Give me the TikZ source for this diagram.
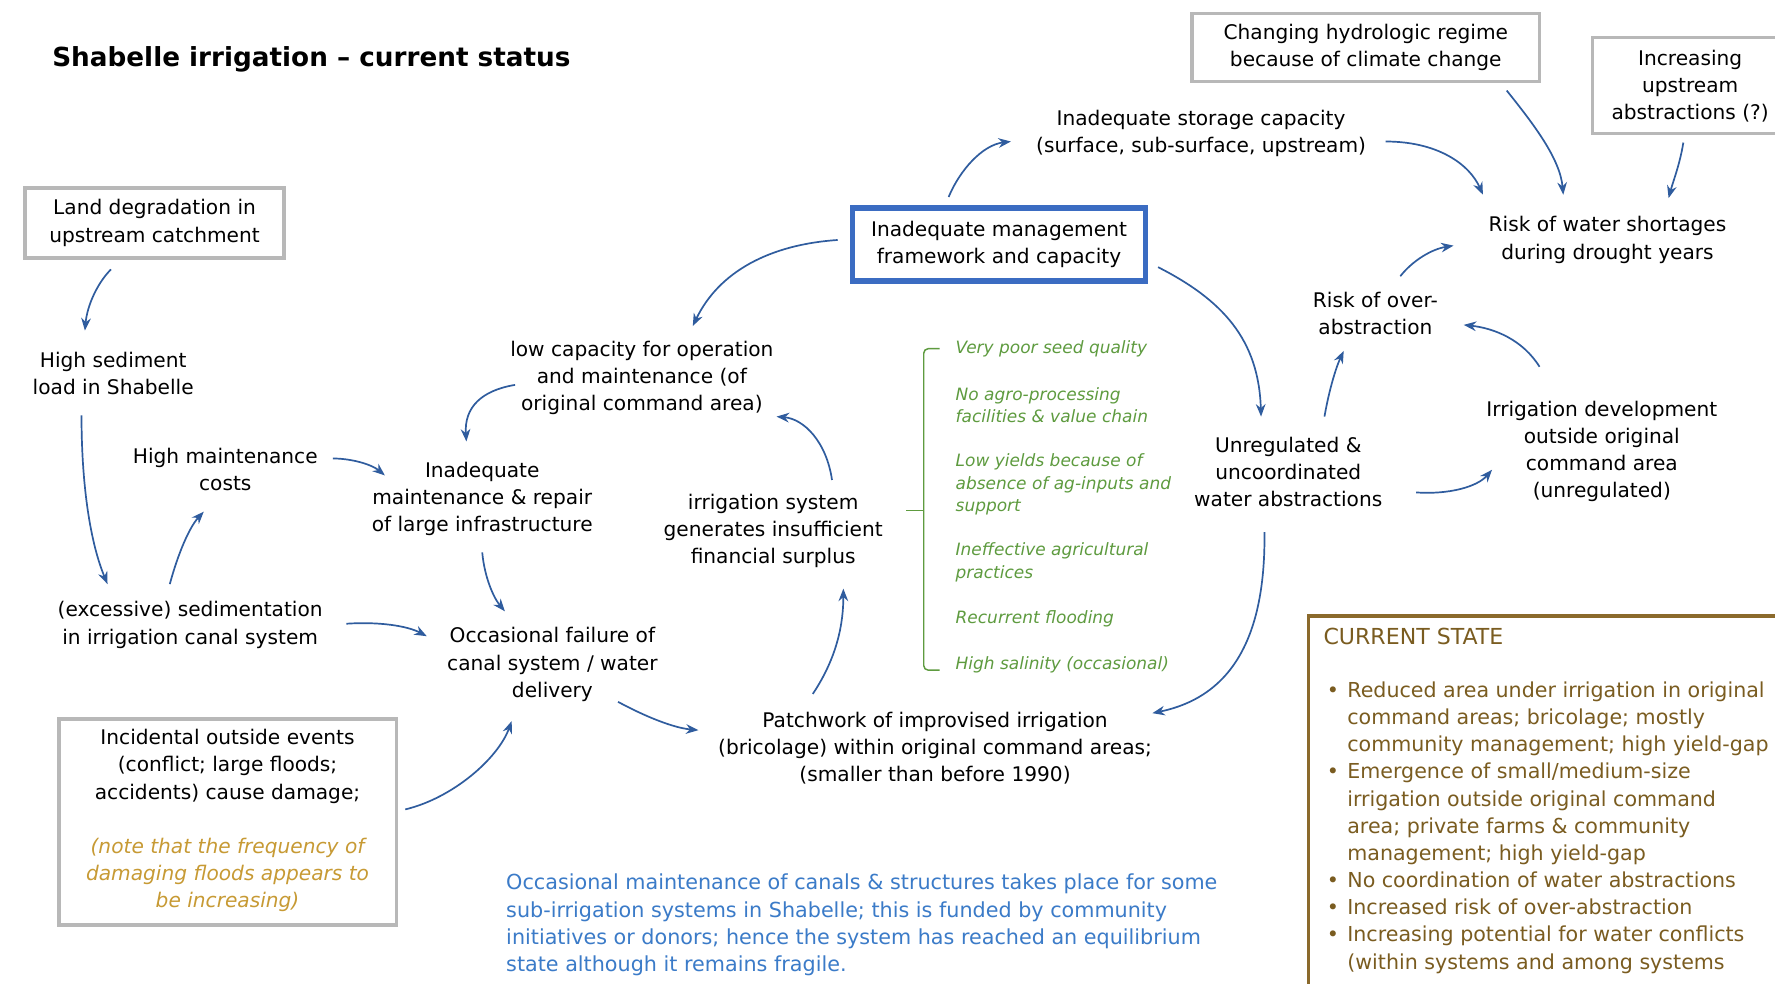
\documentclass[tikz,border=0pt]{standalone}
\usepackage{fontspec}
\setmainfont{DejaVu Sans}
\usetikzlibrary{arrows.meta,calc}
\definecolor{arrblue}{HTML}{2F5C9E}
\definecolor{mgmtblue}{HTML}{3B6CC2}
\definecolor{boxgray}{HTML}{B8B8B8}
\definecolor{leafgreen}{HTML}{5E9B3F}
\definecolor{notegold}{HTML}{C79A34}
\definecolor{parablue}{HTML}{3B7BC8}
\definecolor{statebrown}{HTML}{7A5C20}
\definecolor{stateborder}{HTML}{8B6A2C}
\newcommand{\mainfs}{\fontsize{17.8}{24}\selectfont}
\newcommand{\titlefs}{\fontsize{23.2}{28}\selectfont}
\newcommand{\greenfs}{\fontsize{15}{20}\selectfont}
\newcommand{\parafs}{\fontsize{18.3}{24}\selectfont}
\newcommand{\statefs}{\fontsize{18.2}{24}\selectfont}
\newcommand{\stateheadfs}{\fontsize{19.5}{24}\selectfont}
\newcommand{\bul}{\makebox[18pt][l]{•}}
\newcommand{\ind}{\hspace*{18pt}}
\begin{document}
\begin{tikzpicture}[x=1pt,y=-1pt,
  txt/.style={align=center,font=\mainfs,inner sep=0pt,text=black},
  gbox/.style={draw=boxgray,line width=3pt},
  arr/.style={draw=arrblue,line width=1.5pt,-{Stealth[length=11pt,width=8.5pt]}},
  greenitem/.style={anchor=west,align=left,font=\greenfs\itshape,inner sep=0pt,text=leafgreen}]
\useasboundingbox (0,0) rectangle (1568,869);
\fill[white] (0,0) rectangle (1568,869);

% title
\node[anchor=west,font=\titlefs\bfseries,inner sep=0pt] (title) at (46,52) {Shabelle irrigation – current status};

% boxed nodes
\node[gbox,txt,minimum width=229pt,minimum height=62pt] (land) at (136.5,197) {Land degradation in\\upstream catchment};
\node[draw=mgmtblue,line width=5pt,txt,minimum width=259pt,minimum height=64pt] (mgmt) at (882.5,216) {Inadequate management\\framework and capacity};
\node[gbox,txt,minimum width=307pt,minimum height=60pt] (chg) at (1206.5,42) {Changing hydrologic regime\\because of climate change};
\draw[gbox] (1575,33) -- (1407,33) -- (1407,118) -- (1575,118);
\node[txt] (incr) at (1493,76) {Increasing\\upstream\\abstractions (?)};

\node[gbox,minimum width=298pt,minimum height=182pt,inner sep=0pt] (incid) at (201,726) {};
\node[txt] (incidA) at (201,677) {Incidental outside events\\(conflict; large floods;\\accidents) cause damage;};
\node[txt,text=notegold,font=\mainfs\itshape] (incidB) at (201,773) {(note that the frequency of\\damaging floods appears to\\be increasing)};

% plain text nodes
\node[txt] (hs) at (100,330) {High sediment\\load in Shabelle};
\node[txt] (sed) at (168,552) {(excessive) sedimentation\\in irrigation canal system};
\node[txt] (hmc) at (199,415) {High maintenance\\costs};
\node[txt] (imr) at (426,441) {Inadequate\\maintenance \& repair\\of large infrastructure};
\node[txt] (lowcap) at (567,334) {low capacity for operation\\and maintenance (of\\original command area)};
\node[txt] (storage) at (1061,118) {Inadequate storage capacity\\(surface, sub-surface, upstream)};
\node[txt] (rws) at (1420,212) {Risk of water shortages\\during drought years};
\node[txt] (roa) at (1215,277) {Risk of over-\\abstraction};
\node[txt] (idev) at (1415,399) {Irrigation development\\outside original\\command area\\(unregulated)};
\node[txt] (unreg) at (1138,417) {Unregulated \&\\uncoordinated\\water abstractions};
\node[txt] (patch) at (826,661) {Patchwork of improvised irrigation\\(bricolage) within original command areas;\\(smaller than before 1990)};
\node[txt] (surplus) at (683,469) {irrigation system\\generates insufficient\\financial surplus};
\node[txt] (fail) at (488,587) {Occasional failure of\\canal system / water\\delivery};

% green list and bracket
\draw[leafgreen,line width=1.3pt,rounded corners=4pt] (830,308) -- (816,308) -- (816,592) -- (830,592);
\draw[leafgreen,line width=1.3pt] (816,451) -- (800,451);
\node[greenitem] (g1) at (844,308) {Very poor seed quality};
\node[greenitem] (g2) at (844,358) {No agro-processing\\facilities \& value chain};
\node[greenitem] (g3) at (844,428) {Low yields because of\\absence of ag-inputs and\\support};
\node[greenitem] (g4) at (844,497) {Ineffective agricultural\\practices};
\node[greenitem] (g5) at (844,547) {Recurrent flooding};
\node[greenitem] (g6) at (844,587) {High salinity (occasional)};

% blue paragraph
\node[anchor=north west,align=left,font=\parafs,text=parablue,inner sep=0pt] (para) at (447,772)
{Occasional maintenance of canals \& structures takes place for some\\sub-irrigation systems in Shabelle; this is funded by community\\initiatives or donors; hence the system has reached an equilibrium\\state although it remains fragile.};

% current state box
\draw[stateborder,line width=3pt] (1156,880) -- (1156,544) -- (1575,544);
\node[anchor=north west,font=\stateheadfs,text=statebrown,inner sep=0pt] (stateh) at (1169,555) {CURRENT STATE};
\node[anchor=north west,align=left,font=\statefs,text=statebrown,inner sep=0pt] (statel) at (1172,602)
{\bul Reduced area under irrigation in original\\
\ind command areas; bricolage; mostly\\
\ind community management; high yield-gap\\
\bul Emergence of small/medium-size\\
\ind irrigation outside original command\\
\ind area; private farms \& community\\
\ind management; high yield-gap\\
\bul No coordination of water abstractions\\
\bul Increased risk of over-abstraction\\
\bul Increasing potential for water conflicts\\
\ind (within systems and among systems};

% connectors
\draw[arr] ($(land)+(-38.5,41)$) .. controls (86,250) and (77,270) .. ($(hs)+(-25,-38)$);
\draw[arr] ($(hs)+(-28,37)$) .. controls (72,430) and (80,480) .. ($(sed)+(-73,-36)$);
\draw[arr] ($(sed)+(-18,-36)$) .. controls (157,490) and (167,466) .. ($(hmc)+(-19,37)$);
\draw[arr] ($(hmc)+(95,-10)$) .. controls (310,405) and (328,410) .. ($(imr)+(-86,-21)$);
\draw[arr] ($(lowcap)+(-112,6)$) .. controls (425,345) and (410,360) .. ($(imr)+(-14,-51)$);
\draw[arr] ($(mgmt)+(-142.5,-4)$) .. controls (680,216) and (635,240) .. ($(lowcap)+(45,-46)$);
\draw[arr] ($(mgmt)+(-44.5,-42)$) .. controls (848,150) and (868,128) .. ($(storage)+(-168,7)$);
\draw[arr] ($(storage)+(163,7)$) .. controls (1270,125) and (1298,145) .. ($(rws)+(-110,-40)$);
\draw[arr] ($(chg)+(124.5,38)$) .. controls (1355,110) and (1378,140) .. ($(rws)+(-39,-40)$);
\draw[arr] ($(incr)+(-6,50)$) .. controls (1484,145) and (1478,160) .. ($(rws)+(54,-37)$);
\draw[arr] ($(roa)+(22,-33)$) .. controls (1248,230) and (1265,220) .. ($(rws)+(-136,5)$);
\draw[arr] ($(idev)+(-55,-75)$) .. controls (1345,300) and (1320,290) .. ($(roa)+(78,10)$);
\draw[arr] ($(mgmt)+(140.5,20)$) .. controls (1080,265) and (1112,300) .. ($(unreg)+(-24,-49)$);
\draw[arr] ($(unreg)+(32,-49)$) .. controls (1174,345) and (1180,325) .. ($(roa)+(-28,33)$);
\draw[arr] ($(unreg)+(113,18)$) .. controls (1280,437) and (1305,430) .. ($(idev)+(-97,16)$);
\draw[arr] ($(unreg)+(-21,53)$) .. controls (1118,560) and (1090,615) .. ($(patch)+(192,-31)$);
\draw[arr] ($(patch)+(-108,-48)$) .. controls (740,580) and (745,550) .. ($(surplus)+(62,51)$);
\draw[arr] ($(surplus)+(52,-45)$) .. controls (730,390) and (710,370) .. ($(lowcap)+(119,34)$);
\draw[arr] ($(sed)+(138,-1)$) .. controls (335,549) and (360,553) .. ($(fail)+(-111,-25)$);
\draw[arr] ($(imr)+(0,47)$) .. controls (428,510) and (436,528) .. ($(fail)+(-42,-47)$);
\draw[arr] ($(incid)+(157,-11)$) .. controls (400,705) and (440,670) .. ($(fail)+(-36,50)$);
\draw[arr] ($(fail)+(58,33)$) .. controls (570,633) and (595,643) .. ($(patch)+(-209,-16)$);
\end{tikzpicture}
\end{document}
